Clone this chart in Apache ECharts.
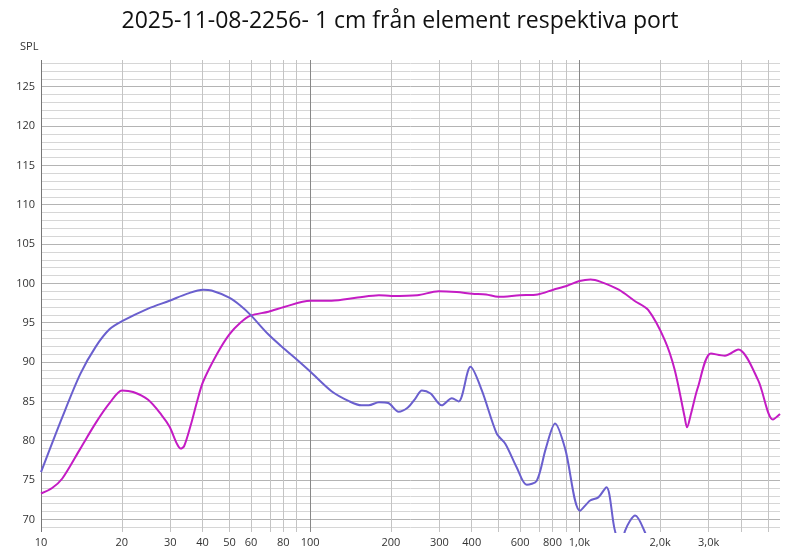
<!DOCTYPE html>
<html><head><meta charset="utf-8">
<script src="https://cdn.jsdelivr.net/npm/echarts@6/dist/echarts.min.js"></script>
<style>body{margin:0}#c{width:800px;height:557px}</style></head>
<body><div id="c"></div>
<script>
const title = '2025-11-08-2256- 1 cm från element respektiva port';
const blueFreq = [10,12,14,16,18,20,25,30,35,40,43,50,55,60,70,80,90,100,120,140,155,165,180,195,213,230,245,260,280,308,336,356,394,434,493,531,585,637,694,750,812,885,1005,1096,1175,1260,1350,1420,1476,1540,1611,1750,1850];
const blueSPL  = [76,83,88.5,92,94.2,95.2,96.8,97.8,98.7,99.2,99.1,98.2,97.2,96,93.5,91.7,90.2,88.8,86.3,85,84.5,84.5,84.9,84.8,83.7,84.2,85.3,86.4,86,84.5,85.4,85.0,89.4,86.4,80.9,79.6,76.6,74.4,74.9,79,82.2,79,71.1,72.4,72.8,74.1,68.8,66.5,68.5,69.8,70.5,68.4,66];
const magFreq = [10,11,12,14,16,18,20,22,25,28,30,32,33,34,36,38,40,45,50,55,60,70,80,100,120,150,180,200,250,300,350,400,450,500,600,700,800,900,1000,1100,1200,1400,1600,1803,2075,2260,2460,2510,2600,2750,3080,3470,3890,4610,5230,5560];
const magSPL  = [73.3,74,75.2,79,82.3,84.8,86.4,86.2,85.2,83.3,81.8,79.6,79,79.3,82,85,87.5,91,93.5,95,95.9,96.4,97,97.8,97.8,98.2,98.5,98.4,98.5,99,98.9,98.7,98.6,98.3,98.5,98.6,99.2,99.7,100.3,100.5,100.2,99.2,97.8,96.6,92.8,89,83,81.7,83.5,86.7,91.1,90.8,91.6,87.7,82.7,83.4];
const xGridFreq = [10,20,30,40,50,60,70,80,90,100,200,300,400,500,600,700,800,900,1000,2000,3000,4000,5000];
const xTickFreq = [10,20,30,40,50,60,80,100,200,300,400,600,800,1000,2000,3000,5560];
const xTickText = ['10','20','30','40','50','60','80','100','200','300','400','600','800','1,0k','2,0k','3,0k','5,56kHz'];
const yTicks = [70,75,80,85,90,95,100,105,110,115,120,125];
const yMin = 68.4, yMax = 128.4;

const L = Math.log10;
const pts = (f, v) => f.map((x, i) => [L(x), v[i]]);
const gridLines = [];
for (let y = 69; y <= 128; y++) {
  const major = y % 5 === 0;
  gridLines.push({yAxis: y, lineStyle: {color: major ? '#b4b4b4' : '#d6d6d6', width: 1, type: 'solid'},
    label: {show: major && yTicks.includes(y), formatter: String(y), position: 'start', color: '#333', fontSize: 11, distance: 6}});
}
xGridFreq.forEach(f => {
  const dec = f === 100 || f === 1000;
  const ax = f === 10;
  gridLines.push({xAxis: L(f), lineStyle: {color: ax ? '#777' : dec ? '#888' : '#c4c4c4', width: 1, type: 'solid'}, label: {show: false}});
});
xTickFreq.forEach((f, i) => {
  gridLines.push({xAxis: L(f), lineStyle: {color: 'rgba(0,0,0,0)', width: 1, type: 'solid'}, label: {show: true, formatter: xTickText[i], position: 'start', color: '#333', fontSize: 11, distance: 5}});
});

const chart = echarts.init(document.getElementById('c'));
chart.setOption({
  animation: false,
  backgroundColor: '#fff',
  title: {text: title, left: 'center', top: 5, textStyle: {fontFamily: 'Open Sans', fontWeight: 'normal', fontSize: 23, color: '#111'}},
  graphic: [{type: 'text', left: 20, top: 41, style: {text: 'SPL', fontSize: 11, fill: '#333', fontFamily: 'Open Sans'}}],
  grid: {left: 41, right: 20, top: 60, bottom: 25},
  xAxis: {type: 'value', min: 1, max: L(5560), axisLabel: {show: false}, axisTick: {show: false}, axisLine: {show: false}, splitLine: {show: false}},
  yAxis: {type: 'value', min: yMin, max: yMax, axisLabel: {show: false}, axisTick: {show: false}, axisLine: {show: false}, splitLine: {show: false}},
  textStyle: {fontFamily: 'Open Sans'},
  series: [
    {type: 'line', data: [], silent: true, z: 0, markLine: {silent: true, symbol: 'none', animation: false, data: gridLines}},
    {type: 'line', data: pts(magFreq, magSPL), smooth: 0.3, showSymbol: false, lineStyle: {color: '#c41cc4', width: 2}, zlevel: 1},
    {type: 'line', data: pts(blueFreq, blueSPL), smooth: 0.3, showSymbol: false, lineStyle: {color: '#6a5fce', width: 2}, zlevel: 1}
  ]
});
</script></body></html>
